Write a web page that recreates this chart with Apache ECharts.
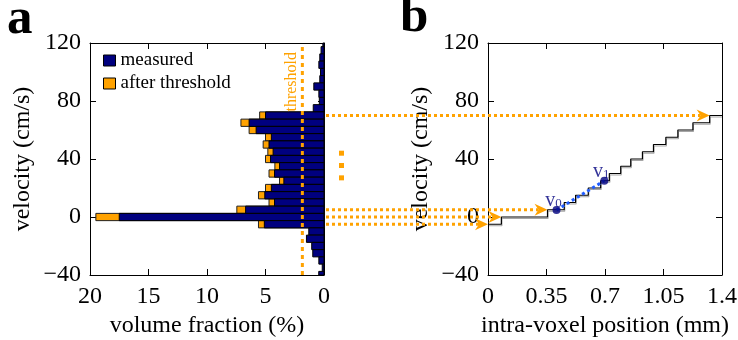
<!DOCTYPE html>
<html><head><meta charset="utf-8">
<script src="https://cdn.jsdelivr.net/npm/echarts@6/dist/echarts.min.js"></script>
<style>html,body{margin:0;padding:0;background:#fff}#c{width:738px;height:340px}</style>
</head><body><div id="c"></div>
<script>
// ---- data ----
const velocityBins = [120,115,110,105,100,95,90,85,80,75,70,65,60,55,50,45,40,35,30,25,20,15,10,5,0,-5,-10,-15,-20,-25,-30,-35,-40];
const measured     = [0.1,0.25,0.36,0.44,0.3,0.36,0.87,0.44,0.4,0.92,5.0,6.4,5.8,4.5,4.7,4.35,4.57,3.8,4.23,3.43,4.5,5.06,4.23,6.7,17.5,5.1,1.3,1.5,1.05,0.96,0.44,0.15,0.45];
const afterThresh  = [null,null,null,null,null,null,null,null,null,null,5.5,7.1,6.4,5.0,5.2,4.8,5.0,4.2,4.7,3.8,5.0,5.6,4.7,7.45,19.5,5.6,null,null,null,null,null,null,null];
const binWidth = 5;
const thresholdValue = 1.85;
const fractionTicks = [0, 20, 5];      // min, max, interval
const velocityTicks = [-40, 120, 40];
const positionTicks = [0, 1.4, 0.35];
// staircase (panel b): position where each level begins, and level
const stepStarts = [0, 0.08, 0.356, 0.456, 0.524, 0.600, 0.674, 0.726, 0.794, 0.854, 0.924, 0.990, 1.064, 1.136, 1.226, 1.326, 1.4];
const stepLevels = [-5, 0, 5, 10, 15, 20, 25, 30, 35, 40, 45, 50, 55, 60, 65, 70, 70];
const vPoints = [[0.41, 4.8, '0'], [0.696, 25, '1']];
// dotted arrows: velocity level and target position in panel b
const arrowLevels  = [70, 5, 0, -5];
const arrowTargets = [1.326, 0.356, 0.08, 0];
const ellipsisVel = [44, 35.5, 27];

const NAVY = '#00007f', ORANGE = '#ffa200', SERIF = 'Liberation Serif';
const fmtMinus = v => String(+(+v).toFixed(2)).replace('-', '\u2212');

const chart = echarts.init(document.getElementById('c'), null, {renderer: 'canvas'});

function barRenderer(params, api) {
  const val = api.value(0), v = api.value(1);
  const a = api.coord([val, v + binWidth / 2]);
  const b = api.coord([0, v - binWidth / 2]);
  const cs = params.coordSys;
  const shape = echarts.graphic.clipRectByRect(
    {x: Math.min(a[0], b[0]), y: Math.min(a[1], b[1]), width: Math.abs(a[0] - b[0]), height: Math.abs(a[1] - b[1])},
    {x: cs.x, y: cs.y, width: cs.width, height: cs.height});
  return shape && {type: 'rect', shape: shape, style: api.style()};
}

const axisBase = {
  axisLine: {show: true, onZero: false, lineStyle: {color: '#000', width: 1}},
  axisTick: {show: true, inside: true, length: 6, lineStyle: {color: '#000'}},
  splitLine: {show: false},
  nameTextStyle: {color: '#000', fontFamily: SERIF, fontSize: 24}
};
function ax(extra, labelExtra) {
  return Object.assign({}, JSON.parse(JSON.stringify(axisBase)),
    {axisLabel: Object.assign({color: '#000', fontFamily: SERIF, fontSize: 24, formatter: fmtMinus, showMinLabel: true, showMaxLabel: true, hideOverlap: false}, labelExtra || {})},
    extra);
}

const measuredData = velocityBins.map((v, i) => [measured[i], v]);
const orangeData = velocityBins.map((v, i) => [afterThresh[i], v]).filter(d => d[0] != null);
const stairData = stepStarts.map((x, i) => [x, stepLevels[i]]);

chart.setOption({
  animation: false,
  grid: [
    {left: 90, right: 414, top: 43, bottom: 65, containLabel: false, outerBoundsMode: 'none'},
    {left: 488, right: 16, top: 43, bottom: 65, containLabel: false, outerBoundsMode: 'none'}
  ],
  xAxis: [
    ax({gridIndex: 0, type: 'value', min: fractionTicks[0], max: fractionTicks[1], interval: fractionTicks[2], inverse: true, position: 'bottom',
        name: 'volume fraction (%)', nameLocation: 'middle', nameGap: 38}, {margin: 10}),
    ax({gridIndex: 0, type: 'value', min: fractionTicks[0], max: fractionTicks[1], interval: fractionTicks[2], inverse: true, position: 'top'}, {show: false}),
    ax({gridIndex: 1, type: 'value', min: positionTicks[0], max: positionTicks[1], interval: positionTicks[2], position: 'bottom',
        name: 'intra-voxel position (mm)', nameLocation: 'middle', nameGap: 38}, {margin: 10}),
    ax({gridIndex: 1, type: 'value', min: positionTicks[0], max: positionTicks[1], interval: positionTicks[2], position: 'top'}, {show: false})
  ],
  yAxis: [
    ax({gridIndex: 0, type: 'value', min: velocityTicks[0], max: velocityTicks[1], interval: velocityTicks[2], position: 'left',
        name: 'velocity (cm/s)', nameLocation: 'middle', nameGap: 55}, {margin: 9}),
    ax({gridIndex: 0, type: 'value', min: velocityTicks[0], max: velocityTicks[1], interval: velocityTicks[2], position: 'right'}, {show: false}),
    ax({gridIndex: 1, type: 'value', min: velocityTicks[0], max: velocityTicks[1], interval: velocityTicks[2], position: 'left',
        name: 'velocity (cm/s)', nameLocation: 'middle', nameGap: 55}, {margin: 9}),
    ax({gridIndex: 1, type: 'value', min: velocityTicks[0], max: velocityTicks[1], interval: velocityTicks[2], position: 'right'}, {show: false})
  ],
  legend: {
    orient: 'vertical', left: 103, top: 51, itemWidth: 12, itemHeight: 11, itemGap: 4, padding: 0,
    selectedMode: false, icon: 'rect',
    textStyle: {fontFamily: SERIF, fontSize: 19, color: '#000', lineHeight: 18},
    data: [
      {name: 'measured', itemStyle: {color: NAVY, borderColor: '#000', borderWidth: 1}},
      {name: 'after threshold', itemStyle: {color: ORANGE, borderColor: '#000', borderWidth: 1}}
    ]
  },
  series: [
    {type: 'custom', name: 'after threshold', xAxisIndex: 0, yAxisIndex: 0, renderItem: barRenderer, data: orangeData,
     itemStyle: {color: ORANGE, borderColor: '#222', borderWidth: 1}, z: 2},
    {type: 'custom', name: 'measured', xAxisIndex: 0, yAxisIndex: 0, renderItem: barRenderer, data: measuredData,
     itemStyle: {color: NAVY, borderColor: '#000', borderWidth: 1}, z: 3},
    {type: 'line', name: 'threshold', xAxisIndex: 0, yAxisIndex: 0, symbol: 'none', z: 5,
     data: [[thresholdValue, velocityTicks[0]], [thresholdValue, velocityTicks[1]]],
     lineStyle: {color: ORANGE, width: 3, type: [4, 4]}},
    {type: 'line', name: 'stairs', xAxisIndex: 2, yAxisIndex: 2, symbol: 'none', step: 'end', data: stairData, z: 3,
     lineStyle: {color: '#000', width: 1.2, shadowColor: 'rgba(0,0,0,0.35)', shadowOffsetY: 1.5, shadowOffsetX: 0.5}},
    {type: 'line', name: 'v01', xAxisIndex: 2, yAxisIndex: 2, symbol: 'none', data: vPoints.map(p => [p[0], p[1]]), z: 4,
     lineStyle: {color: '#1f5cff', width: 3, type: [3, 3]}},
    {type: 'scatter', name: 'vpts', xAxisIndex: 2, yAxisIndex: 2, symbolSize: 8, z: 6,
     itemStyle: {color: NAVY},
     data: vPoints.map(p => ({value: [p[0], p[1]], sub: p[2]})),
     label: {show: true, position: 'top', distance: 0, offset: [-3, 4],
       formatter: p => '{v|v}{s|' + p.data.sub + '}',
       rich: {v: {fontFamily: SERIF, fontSize: 20, color: NAVY, verticalAlign: 'top', lineHeight: 19},
              s: {fontFamily: SERIF, fontSize: 13, color: NAVY, verticalAlign: 'bottom', lineHeight: 13, padding: [12, 0, 0, 0]}}}}
  ]
});

// overlay graphics positioned through the axes
const g = [];
const rightA = chart.convertToPixel({xAxisIndex: 0}, 0);
arrowLevels.forEach((lv, i) => {
  const y = chart.convertToPixel({yAxisIndex: 0}, lv);
  const tip = chart.convertToPixel({xAxisIndex: 2}, arrowTargets[i]);
  g.push({type: 'line', shape: {x1: rightA + 2, y1: y, x2: tip - 9, y2: y},
          style: {stroke: ORANGE, lineWidth: 3, lineDash: [3, 3]}, z: 100});
  g.push({type: 'polygon', shape: {points: [[tip, y], [tip - 13, y - 6], [tip - 9, y], [tip - 13, y + 6]]},
          style: {fill: ORANGE}, z: 101});
});
ellipsisVel.forEach(v => {
  const y = chart.convertToPixel({yAxisIndex: 0}, v);
  g.push({type: 'rect', shape: {x: rightA + 15, y: y - 2.5, width: 5, height: 5}, style: {fill: ORANGE}, z: 100});
});
const thrX = chart.convertToPixel({xAxisIndex: 0}, thresholdValue);
const topY = chart.convertToPixel({yAxisIndex: 0}, velocityTicks[1]);
g.push({type: 'text', x: thrX - 11, y: topY + 9, rotation: Math.PI / 2,
        style: {text: 'threshold', fill: ORANGE, fontFamily: SERIF, fontSize: 16, align: 'right', verticalAlign: 'middle'}, z: 100});
g.push({type: 'text', left: 7, top: -6, style: {text: 'a', fill: '#000', fontFamily: SERIF, fontSize: 51, fontWeight: 'bold'}});
g.push({type: 'text', left: 400, top: -8, style: {text: 'b', fill: '#000', fontFamily: SERIF, fontSize: 51, fontWeight: 'bold'}});
chart.setOption({graphic: g});
</script></body></html>
